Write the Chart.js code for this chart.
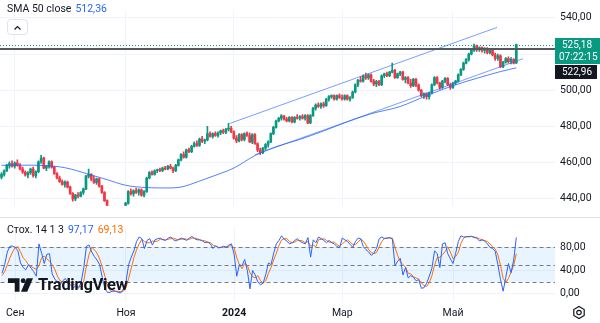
<!DOCTYPE html>
<html>
<head>
<meta charset="utf-8">
<script src="https://cdn.jsdelivr.net/npm/chart.js@4.4.1/dist/chart.umd.min.js"></script>
<style>
  body { margin: 0; background: #fff; font-family: Roboto, sans-serif; }
  #wrap { position: relative; width: 600px; height: 323px; overflow: hidden; }
  canvas { position: absolute; left: 0; }
  #priceChart { top: 0; }
  #stochChart { top: 217px; }
  .legend { position: absolute; left: 7px; font-size: 10.5px; color: #131722; white-space: nowrap; }
  .legend span { margin-left: 4px; }
  #smaLegend { top: 2px; }
  #stochLegend { top: 223px; }
  #collapse { position: absolute; left: 7px; top: 19px; width: 19px; height: 14px; border: 1px solid #e0e3eb; border-radius: 4px; background: #fff; }
  #logo { position: absolute; left: 8px; top: 275px; display: flex; align-items: center; }
  #logo b { margin-left: 5px; font-size: 16.5px; font-weight: 700; color: #131722; letter-spacing: -0.3px; }
</style>
</head>
<body>
<div id="wrap">
  <canvas id="priceChart" width="600" height="217"></canvas>
  <canvas id="stochChart" width="600" height="106"></canvas>
  <div class="legend" id="smaLegend">SMA 50 close<span id="smaValue" style="color:#2962ff"></span></div>
  <div id="collapse">
    <svg width="19" height="14" viewBox="0 0 19 14"><path d="M6.5 8.5 L9.5 5.5 L12.5 8.5" fill="none" stroke="#131722" stroke-width="1.2"/></svg>
  </div>
  <div class="legend" id="stochLegend">Стох. 14 1 3<span id="kValue" style="color:#2962ff"></span><span id="dValue" style="color:#ff6d00"></span></div>
  <div id="logo">
    <svg width="25" height="15" viewBox="0 0 26 15">
      <path d="M0 1h12v14h-5v-9h-7z" fill="#131722"/>
      <circle cx="15.8" cy="3.5" r="2.5" fill="#131722"/>
      <path d="M19.5 1h6.5l-6 14h-6.5z" fill="#131722"/>
    </svg>
    <b>TradingView</b>
  </div>
</div>
<script>
// Daily candles, 25 Aug 2023 .. 5 Jun 2024 (bar index 0..195)
const opens = [
  452.0, 453.5, 455.5, 458.5, 459.5, 458.0, 459.8, 458.5, 456.5, 454.8,
  453.2, 454.5, 456.5, 452.8, 455.0, 460.5, 462.5, 457.0, 458.0, 460.5,
  457.5, 454.0, 451.5, 449.5, 448.0, 449.2, 446.5, 443.0, 440.0, 442.0,
  441.5, 443.5, 445.5, 452.5, 453.5, 450.8, 449.0, 451.0, 447.0, 443.5,
  439.0, 434.5, 432.0, 433.0, 428.5, 429.5, 427.5, 431.5, 437.5, 444.0,
  442.8, 444.5, 443.5, 445.0, 442.0, 444.0, 451.5, 454.5, 453.5, 455.5,
  456.0, 455.7, 457.0, 456.5, 458.0, 457.0, 455.5, 458.5, 461.5, 464.5,
  463.0, 467.0, 466.0, 469.0, 470.5, 469.5, 473.0, 471.8, 472.5, 476.0,
  474.5, 476.0, 475.0, 476.5, 477.5, 476.8, 478.5, 479.0, 477.0, 473.5,
  472.0, 475.5, 472.8, 476.0, 475.0, 471.5, 475.5, 470.5, 467.0, 465.5,
  468.0, 470.0, 471.5, 476.0, 479.5, 483.0, 484.5, 485.8, 484.0, 483.0,
  485.0, 482.5, 485.0, 484.5, 485.5, 484.5, 486.0, 482.0, 486.0, 490.0,
  491.8, 491.0, 492.5, 491.5, 495.0, 496.5, 497.0, 495.0, 497.0, 496.0,
  495.2, 497.0, 495.0, 496.0, 499.0, 503.0, 505.5, 505.0, 508.0, 506.8,
  508.5, 505.0, 503.5, 504.8, 503.0, 508.0, 509.0, 508.0, 510.0, 511.0,
  507.0, 509.0, 510.0, 506.0, 507.0, 504.0, 502.5, 506.0, 502.8, 500.0,
  497.0, 498.0, 496.5, 498.5, 503.0, 507.0, 504.0, 501.5, 505.0, 506.5,
  503.0, 501.5, 504.0, 505.0, 508.5, 511.5, 515.0, 517.0, 520.0, 522.0,
  524.5, 522.5, 523.5, 522.0, 523.0, 520.8, 522.5, 519.5, 517.5, 519.0,
  513.0, 515.5, 517.5, 515.8, 517.0, 515.0,
]
const highs = [
  454.5, 456.0, 459.0, 460.5, 461.0, 460.5, 461.5, 459.5, 457.5, 455.5,
  455.0, 457.0, 457.5, 455.5, 461.0, 464.0, 463.0, 458.5, 461.0, 461.0,
  458.0, 454.5, 452.5, 450.5, 450.0, 449.8, 447.0, 443.5, 442.5, 443.5,
  444.0, 446.0, 453.0, 456.4, 454.0, 452.5, 451.5, 451.5, 447.5, 444.0,
  439.5, 436.0, 434.0, 434.0, 430.0, 431.5, 432.0, 438.0, 444.5, 445.5,
  445.0, 446.0, 445.5, 445.5, 444.5, 452.0, 455.0, 455.5, 456.0, 456.5,
  457.0, 457.5, 458.0, 458.5, 459.0, 457.5, 459.0, 462.0, 465.0, 466.0,
  467.5, 468.0, 469.5, 471.5, 472.0, 473.5, 474.5, 473.0, 480.0, 477.0,
  476.5, 477.0, 477.0, 478.0, 478.5, 479.0, 481.7, 480.0, 477.5, 475.0,
  476.0, 476.0, 476.5, 477.0, 476.5, 476.0, 476.0, 471.0, 468.0, 468.5,
  470.5, 472.0, 476.5, 480.0, 483.5, 485.0, 486.5, 486.0, 485.0, 485.5,
  485.5, 485.5, 486.5, 486.0, 486.5, 486.5, 486.5, 486.5, 490.5, 492.5,
  493.0, 493.0, 493.5, 495.5, 497.0, 497.5, 497.5, 497.5, 498.0, 497.5,
  497.5, 497.5, 496.5, 499.5, 503.5, 506.0, 507.5, 508.5, 509.5, 509.0,
  509.0, 506.0, 505.5, 505.5, 508.5, 509.5, 510.0, 510.5, 515.0, 511.5,
  509.5, 510.5, 510.5, 507.5, 507.5, 506.0, 506.5, 506.5, 503.5, 500.5,
  498.5, 498.5, 499.0, 503.5, 507.5, 507.5, 504.5, 505.5, 507.0, 507.0,
  504.0, 504.5, 505.5, 509.0, 512.0, 515.5, 517.5, 520.5, 522.5, 525.5,
  525.0, 524.0, 524.0, 523.5, 523.5, 523.0, 523.0, 520.5, 520.0, 519.5,
  516.0, 518.0, 518.5, 518.0, 517.5, 525.5,
]
const lows = [
  451.0, 452.5, 455.0, 457.0, 457.5, 457.0, 458.0, 456.0, 454.0, 452.5,
  451.5, 453.5, 452.0, 451.5, 454.5, 459.5, 456.5, 455.5, 457.0, 457.0,
  453.5, 451.0, 449.0, 447.5, 446.5, 446.0, 442.5, 438.7, 439.0, 440.5,
  441.0, 442.5, 445.0, 451.5, 450.0, 448.5, 448.0, 446.5, 443.0, 438.5,
  434.0, 431.0, 429.0, 428.0, 426.0, 427.0, 426.5, 431.0, 437.0, 442.0,
  441.5, 443.0, 442.0, 441.5, 441.0, 443.5, 451.0, 453.0, 453.0, 454.5,
  455.0, 455.0, 456.0, 456.0, 456.5, 454.5, 455.0, 458.0, 461.0, 462.5,
  462.5, 465.5, 465.5, 468.5, 469.0, 469.0, 471.0, 470.5, 472.0, 474.0,
  473.5, 474.5, 474.0, 475.5, 476.0, 476.0, 477.5, 476.5, 473.0, 471.0,
  471.5, 472.0, 472.0, 474.5, 471.0, 470.5, 470.0, 466.0, 464.4, 465.0,
  467.0, 468.5, 471.0, 475.5, 479.0, 482.5, 483.5, 483.5, 482.5, 482.5,
  482.0, 482.0, 484.0, 483.5, 484.0, 483.5, 481.5, 481.5, 485.5, 489.0,
  490.5, 490.0, 490.5, 491.0, 494.0, 495.5, 494.5, 494.5, 495.5, 494.5,
  494.5, 494.5, 494.0, 495.5, 498.5, 502.0, 504.5, 504.5, 506.0, 506.0,
  504.5, 502.5, 502.0, 502.5, 502.5, 507.0, 507.5, 507.5, 509.5, 506.5,
  506.5, 508.0, 505.5, 504.0, 503.5, 501.5, 502.0, 502.0, 499.5, 496.5,
  495.5, 495.0, 495.0, 498.0, 502.5, 503.5, 500.5, 501.0, 504.0, 502.5,
  500.5, 501.0, 503.0, 504.5, 508.0, 511.0, 514.5, 516.0, 519.5, 521.5,
  521.5, 521.5, 521.0, 520.5, 520.0, 520.0, 519.0, 516.5, 516.5, 512.4,
  512.5, 515.0, 515.0, 514.5, 514.5, 514.8,
]
const closes = [
  453.5, 455.5, 458.5, 459.5, 458.0, 459.8, 458.5, 456.5, 454.8, 453.2,
  454.5, 456.5, 452.8, 455.0, 460.5, 462.5, 457.0, 458.0, 460.5, 457.5,
  454.0, 451.5, 449.5, 448.0, 449.2, 446.5, 443.0, 440.0, 442.0, 441.5,
  443.5, 445.5, 452.5, 453.5, 450.8, 449.0, 451.0, 447.0, 443.5, 439.0,
  434.5, 432.0, 433.0, 428.5, 429.5, 427.5, 431.5, 437.5, 444.0, 442.8,
  444.5, 443.5, 445.0, 442.0, 444.0, 451.5, 454.5, 453.5, 455.5, 456.0,
  455.7, 457.0, 456.5, 458.0, 457.0, 455.5, 458.5, 461.5, 464.5, 463.0,
  467.0, 466.0, 469.0, 470.5, 469.5, 473.0, 471.8, 472.5, 476.0, 474.5,
  476.0, 475.0, 476.5, 477.5, 476.8, 478.5, 479.0, 477.0, 473.5, 472.0,
  475.5, 472.8, 476.0, 475.0, 471.5, 475.5, 470.5, 467.0, 465.5, 468.0,
  470.0, 471.5, 476.0, 479.5, 483.0, 484.5, 485.8, 484.0, 483.0, 485.0,
  482.5, 485.0, 484.5, 485.5, 484.5, 486.0, 482.0, 486.0, 490.0, 491.8,
  491.0, 492.5, 491.5, 495.0, 496.5, 497.0, 495.0, 497.0, 496.0, 495.2,
  497.0, 495.0, 496.0, 499.0, 503.0, 505.5, 505.0, 508.0, 506.8, 508.5,
  505.0, 503.5, 504.8, 503.0, 508.0, 509.0, 508.0, 510.0, 511.0, 507.0,
  509.0, 510.0, 506.0, 507.0, 504.0, 502.5, 506.0, 502.8, 500.0, 497.0,
  498.0, 496.5, 498.5, 503.0, 507.0, 504.0, 501.5, 505.0, 506.5, 503.0,
  501.5, 504.0, 505.0, 508.5, 511.5, 515.0, 517.0, 520.0, 522.0, 524.5,
  522.5, 523.5, 522.0, 523.0, 520.8, 522.5, 519.5, 517.5, 519.0, 513.0,
  515.5, 517.5, 515.8, 517.0, 515.0, 525.18,
]

// SMA 50 of close, sampled along the bar index
const smaIdx = [0, 8, 16, 24, 33, 40, 47, 55, 62, 68, 75, 82, 88, 96, 104, 113, 122, 130, 140, 151, 161, 171, 181, 189, 195]
const smaVals = [458.5, 458.6, 458.4, 457.2, 453.6, 450.6, 447.5, 446.2, 446.0, 446.5, 449.8, 453.5, 457.0, 463.9, 468.8, 472.8, 477.5, 482.0, 487.0, 491.0, 497.0, 502.5, 507.0, 510.3, 512.36]

// parallel channel: [start bar, end bar], [start price, end price]
const upperIdx = [86.6, 187.7]
const upperVals = [481.7, 534.7]
const lowerIdx = [96, 197.5]
const lowerVals = [464.4, 517.4]
const levelPrice = 522.96
const countdown = "07:22:15"

// Stochastic 14 1 3
const stochK = [
  35, 50, 72, 82, 82, 80, 74, 53, 45, 41,
  50, 44, 38, 30, 86, 70, 52, 68, 69, 34,
  25, 20, 15, 22, 26, 18, 15, 10, 13, 9,
  20, 45, 82, 84, 72, 64, 58, 50, 28, 8,
  2, 2, 5, 4, 2, 1, 8, 20, 50, 63,
  74, 90, 98, 95, 78, 92, 95, 84, 93, 95,
  96, 93, 92, 96, 98, 93, 91, 94, 96, 94,
  92, 96, 99, 95, 93, 93, 91, 88, 89, 86,
  78, 83, 79, 80, 82, 80, 84, 86, 68, 30,
  50, 48, 59, 40, 8, 40, 32, 20, 15, 18,
  33, 53, 50, 70, 86, 92, 100, 94, 91, 86,
  88, 92, 95, 90, 88, 86, 97, 63, 93, 88,
  98, 95, 92, 88, 92, 88, 86, 81, 80, 96,
  93, 90, 85, 80, 90, 96, 95, 81, 76, 72,
  66, 70, 78, 95, 98, 95, 96, 97, 94, 48,
  56, 61, 32, 45, 27, 31, 28, 22, 24, 9,
  10, 18, 30, 44, 74, 69, 45, 86, 88, 69,
  60, 52, 70, 90, 100, 98, 98, 99, 99, 97,
  96, 91, 93, 91, 86, 80, 78, 73, 50, 24,
  4, 28, 52, 36, 58, 97.17,
]
const stochD = [
  31, 38, 50, 62, 72, 80, 81, 72, 62, 57,
  50, 47, 44, 42, 48, 62, 65, 60, 56, 50,
  42, 30, 22, 20, 20, 21, 19, 16, 14, 12,
  12, 22, 48, 68, 80, 76, 70, 60, 46, 30,
  14, 5, 3, 4, 4, 3, 4, 10, 26, 44,
  62, 76, 86, 94, 90, 88, 88, 91, 90, 91,
  94, 94, 93, 94, 95, 96, 94, 93, 94, 95,
  94, 94, 96, 96, 95, 93, 92, 91, 89, 88,
  84, 82, 80, 80, 80, 81, 82, 83, 79, 62,
  50, 43, 52, 49, 36, 29, 27, 31, 22, 18,
  22, 35, 45, 58, 70, 83, 93, 95, 95, 90,
  88, 89, 92, 92, 91, 88, 90, 82, 84, 81,
  93, 94, 95, 92, 89, 89, 89, 85, 82, 86,
  90, 93, 89, 85, 85, 89, 94, 91, 84, 76,
  71, 69, 71, 81, 90, 96, 96, 96, 96, 80,
  66, 55, 50, 46, 35, 34, 29, 27, 25, 18,
  14, 12, 19, 31, 49, 62, 63, 67, 73, 81,
  72, 60, 64, 71, 87, 96, 99, 98, 99, 98,
  97, 95, 93, 92, 90, 86, 81, 77, 67, 49,
  26, 19, 26, 37, 49, 69.13,
]

// axis ticks
const priceTicks = [440, 460, 480, 500, 520, 540]
const stochTicks = [0, 40, 80]
const stochLevels = [20, 50, 80]
const monthIdx = [5, 47, 88, 129, 171]
const monthNames = ["Сен", "Ноя", "2024", "Мар", "Май"]

// colors
const UP = "#089981"
const DOWN = "#f23645"
const GRID = "#f0f3fa"
const TEXT = "#131722"
const TREND = "rgba(41,98,255,0.62)"
const FONT = "Roboto"

const X_MIN = -0.57
const X_MAX = 209.66

function fmt(v) {
  return v.toFixed(2).replace(".", ",")
}

const lastClose = closes[closes.length - 1]
document.getElementById("smaValue").textContent = fmt(smaVals[smaVals.length - 1])
document.getElementById("kValue").textContent = fmt(stochK[stochK.length - 1])
document.getElementById("dValue").textContent = fmt(stochD[stochD.length - 1])

const candleColors = closes.map((c, i) => (c >= opens[i] ? UP : DOWN))
const bodyData = opens.map((o, i) => ({ x: i, y: [o, closes[i]] }))
const wickData = lows.map((l, i) => ({ x: i, y: [l, highs[i]] }))
const smaData = smaIdx.map((x, i) => ({ x, y: smaVals[i] }))
const upperData = upperIdx.map((x, i) => ({ x, y: upperVals[i] }))
const lowerData = lowerIdx.map((x, i) => ({ x, y: lowerVals[i] }))
const kData = stochK.map((y, x) => ({ x, y }))
const dData = stochD.map((y, x) => ({ x, y }))

function xScale(showLabels) {
  return {
    type: "linear",
    min: X_MIN,
    max: X_MAX,
    offset: false,
    grid: { color: GRID, drawTicks: false, offset: false },
    border: { display: false },
    ticks: {
      display: showLabels,
      autoSkip: false,
      maxRotation: 0,
      padding: 6,
      color: TEXT,
      font: (ctx) => ({ family: FONT, size: 10.5, weight: ctx.tick && ctx.tick.value === 88 ? "bold" : "normal" }),
      callback: (v) => monthNames[monthIdx.indexOf(v)],
    },
    afterBuildTicks: (s) => { s.ticks = monthIdx.map((v) => ({ value: v })) },
    afterFit: (s) => { s.height = showLabels ? 22 : 0 },
  }
}

function yScale(min, max, ticks) {
  return {
    position: "right",
    min,
    max,
    grid: { color: GRID, drawTicks: false },
    border: { display: false },
    ticks: { padding: 5, color: TEXT, font: { family: FONT, size: 10.5 }, callback: (v) => fmt(v) },
    afterBuildTicks: (s) => { s.ticks = ticks.map((v) => ({ value: v })) },
    afterFit: (s) => { s.width = 45 },
  }
}

// price line, horizontal level and their scale labels
const priceLines = {
  id: "priceLines",
  afterDatasetsDraw(chart) {
    const { ctx, chartArea: a, scales: { y } } = chart
    ctx.save()
    const pl = Math.round(y.getPixelForValue(lastClose)) + 0.5
    ctx.strokeStyle = UP
    ctx.lineWidth = 1
    ctx.setLineDash([1, 2])
    ctx.beginPath()
    ctx.moveTo(a.left, pl)
    ctx.lineTo(a.right, pl)
    ctx.stroke()
    ctx.setLineDash([])
    const ll = Math.round(y.getPixelForValue(levelPrice))
    ctx.strokeStyle = "#555861"
    ctx.lineWidth = 2
    ctx.beginPath()
    ctx.moveTo(a.left, ll)
    ctx.lineTo(a.right, ll)
    ctx.stroke()
    ctx.restore()
  },
  afterDraw(chart) {
    const { ctx, chartArea: a, scales: { y } } = chart
    const py = Math.round(y.getPixelForValue(lastClose))
    ctx.save()
    ctx.font = "10px " + FONT
    ctx.textBaseline = "middle"
    const top = py - 7
    ctx.fillStyle = UP
    ctx.fillRect(a.right, top, 600 - a.right, 26)
    ctx.fillStyle = "#fff"
    ctx.fillText(fmt(lastClose), a.right + 7, py)
    ctx.fillText(countdown, a.right + 4, py + 12)
    const lt = top + 27
    ctx.fillStyle = TEXT
    ctx.fillRect(a.right, lt, 42, 14)
    ctx.fillStyle = "#fff"
    ctx.fillText(fmt(levelPrice), a.right + 7, lt + 7)
    ctx.restore()
  },
}

// overbought / oversold band, separator and settings icon
const stochBands = {
  id: "stochBands",
  beforeDatasetsDraw(chart) {
    const { ctx, chartArea: a, scales: { y } } = chart
    const hi = y.getPixelForValue(stochLevels[2])
    const lo = y.getPixelForValue(stochLevels[0])
    ctx.save()
    ctx.fillStyle = "rgba(33,150,243,0.1)"
    ctx.fillRect(a.left, hi, a.right - a.left, lo - hi)
    ctx.strokeStyle = "#787b86"
    ctx.lineWidth = 1
    ctx.setLineDash([4, 3])
    stochLevels.forEach((v) => {
      const p = Math.round(y.getPixelForValue(v)) + 0.5
      ctx.beginPath()
      ctx.moveTo(a.left, p)
      ctx.lineTo(a.right, p)
      ctx.stroke()
    })
    ctx.restore()
  },
  afterDraw(chart) {
    const { ctx } = chart
    ctx.save()
    ctx.strokeStyle = "#e0e3eb"
    ctx.lineWidth = 1
    ctx.beginPath()
    ctx.moveTo(0, 0.5)
    ctx.lineTo(600, 0.5)
    ctx.stroke()
    // gear
    const cx = 579, cy = 95.5
    ctx.strokeStyle = TEXT
    ctx.lineWidth = 1.2
    ctx.beginPath()
    for (let k = 0; k < 6; k++) {
      const ang = Math.PI / 6 + (k * Math.PI) / 3
      const px = cx + 6 * Math.cos(ang), py = cy + 6 * Math.sin(ang)
      k === 0 ? ctx.moveTo(px, py) : ctx.lineTo(px, py)
    }
    ctx.closePath()
    ctx.stroke()
    ctx.beginPath()
    ctx.arc(cx, cy, 2.2, 0, Math.PI * 2)
    ctx.stroke()
    ctx.restore()
  },
}

const common = {
  responsive: false,
  animation: false,
  layout: { padding: 0 },
  plugins: { legend: { display: false }, tooltip: { enabled: false } },
}

new Chart(document.getElementById("priceChart"), {
  type: "bar",
  data: {
    datasets: [
      { type: "line", data: upperData, borderColor: TREND, borderWidth: 1, pointRadius: 0, order: 1 },
      { type: "line", data: lowerData, borderColor: TREND, borderWidth: 1, pointRadius: 0, order: 1 },
      { type: "line", data: smaData, borderColor: "rgba(41,98,255,0.8)", borderWidth: 1, pointRadius: 0, cubicInterpolationMode: "monotone", order: 2 },
      { data: bodyData, backgroundColor: candleColors, barThickness: 2, minBarLength: 1, grouped: false, order: 3 },
      { data: wickData, backgroundColor: candleColors, barThickness: 1, grouped: false, order: 4 },
    ],
  },
  options: {
    ...common,
    scales: { x: xScale(false), y: yScale(436.2, 543.6, priceTicks) },
  },
  plugins: [priceLines],
})

new Chart(document.getElementById("stochChart"), {
  type: "line",
  data: {
    datasets: [
      { data: kData, borderColor: "#2962ff", borderWidth: 1, pointRadius: 0 },
      { data: dData, borderColor: "#ff6d00", borderWidth: 1, pointRadius: 0 },
    ],
  },
  options: {
    ...common,
    scales: { x: xScale(true), y: yScale(-13, 113, stochTicks) },
  },
  plugins: [stochBands],
})
</script>
</body>
</html>
